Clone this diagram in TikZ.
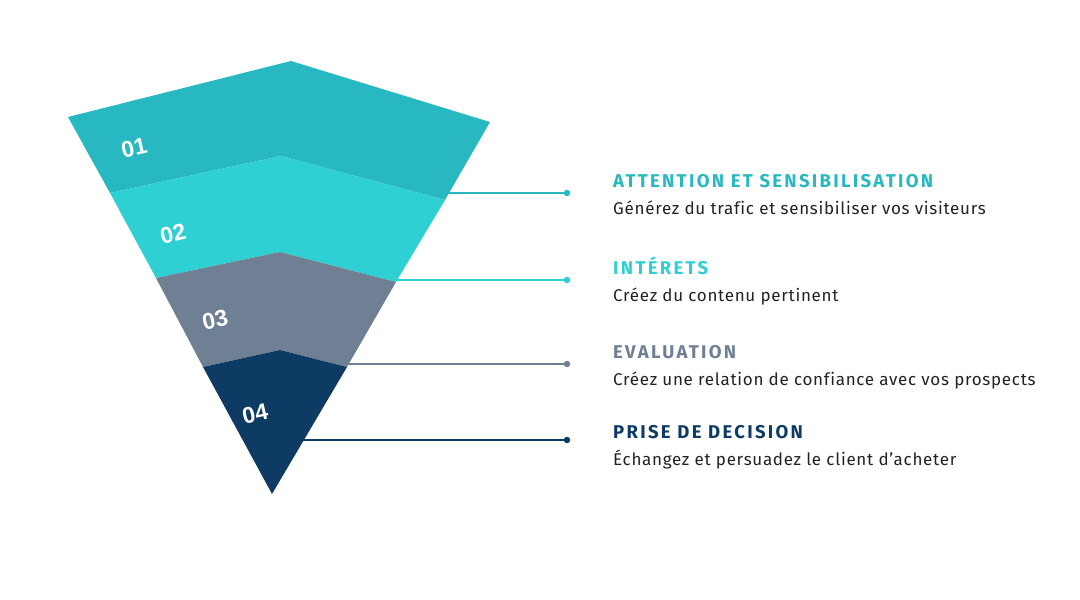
\documentclass[tikz,border=0pt]{standalone}
\usepackage{fontspec}
\setmainfont{Fira Sans}[LetterSpace=4.2,Ligatures={ResetAll,NoCommon}]
\newfontfamily\titlefont{Fira Sans}[LetterSpace=12.5,Ligatures={ResetAll,NoCommon}]
\newfontfamily\numfont{Liberation Sans}
\definecolor{cA}{HTML}{28B8C2}
\definecolor{cB}{HTML}{2ED0D4}
\definecolor{cC}{HTML}{6F7F94}
\definecolor{cD}{HTML}{0D3B63}
\definecolor{txt}{HTML}{222222}
\begin{document}
\begin{tikzpicture}[x=1pt,y=-1pt,
  num/.style={text=white,font=\numfont\bfseries\fontsize{23}{24}\selectfont,rotate=13,inner sep=0pt},
  ttl/.style={anchor=base west,inner sep=0pt,font=\titlefont\bfseries\fontsize{18.5}{20}\selectfont},
  bdy/.style={anchor=base west,inner sep=0pt,text=txt,font=\fontsize{17}{19}\selectfont},
  dot/.style={circle,fill,inner sep=0pt,minimum size=6.5pt},
  conn/.style={line width=1.3pt}]
\useasboundingbox (0,0) rectangle (1080,600);
% funnel bands
\fill[cA] (68,117) -- (291,61) -- (490,122) -- (445,200) -- (281,156) -- (110,193) -- cycle;
\fill[cB] (110,193) -- (281,156) -- (445,200) -- (396,282) -- (280,252) -- (156,278) -- cycle;
\fill[cC] (156,278) -- (280,252) -- (396,282) -- (347,367) -- (280,350) -- (203,367) -- cycle;
\fill[cD] (203,367) -- (280,350) -- (347,367) -- (272,494) -- cycle;
% numbers
\node[num] (n1) at (134,148) {01};
\node[num] (n2) at (173,234) {02};
\node[num] (n3) at (215,320) {03};
\node[num] (n4) at (255,414) {04};
% connectors
\coordinate (s1) at (448,193);
\coordinate (s2) at (397,280);
\coordinate (s3) at (346,364);
\coordinate (s4) at (303,440);
\node[dot,cA] (d1) at (567,193) {};
\node[dot,cB] (d2) at (567,280) {};
\node[dot,cC] (d3) at (567,364) {};
\node[dot,cD] (d4) at (567,440) {};
\draw[conn,cA] (s1) -- (d1);
\draw[conn,cB] (s2) -- (d2);
\draw[conn,cC] (s3) -- (d3);
\draw[conn,cD] (s4) -- (d4);
% texts
\node[ttl,text=cA] (t1) at (613,187) {ATTENTION ET SENSIBILISATION};
\node[bdy] (b1) at (613,214) {Générez du trafic et sensibiliser vos visiteurs};
\node[ttl,text=cB] (t2) at (613,274) {INTÉRETS};
\node[bdy] (b2) at (613,301) {Créez du contenu pertinent};
\node[ttl,text=cC] (t3) at (613,358) {EVALUATION};
\node[bdy] (b3) at (613,385) {Créez une relation de confiance avec vos prospects};
\node[ttl,text=cD] (t4) at (613,438) {PRISE DE DECISION};
\node[bdy] (b4) at (613,465) {Échangez et persuadez le client d'acheter};
\end{tikzpicture}
\end{document}
